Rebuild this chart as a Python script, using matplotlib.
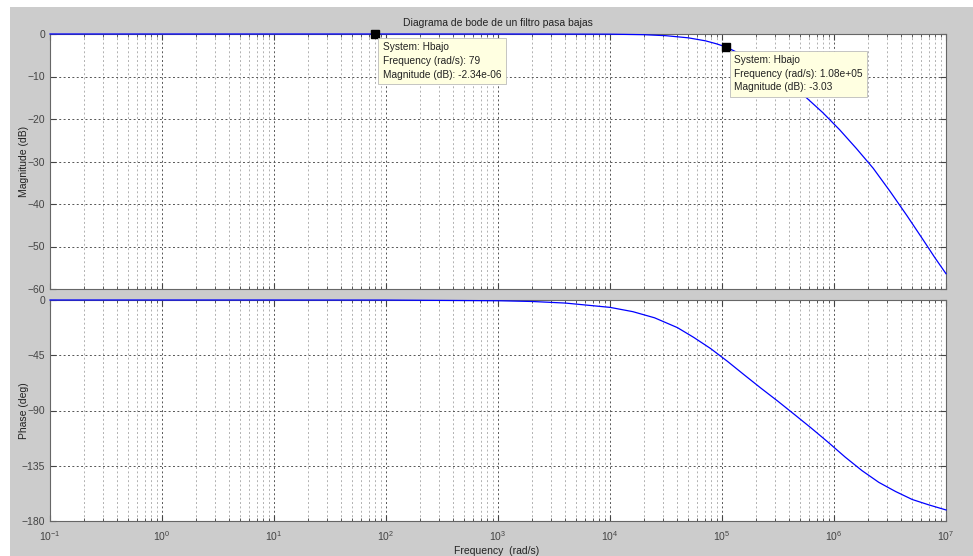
import matplotlib
matplotlib.use("Agg")
import matplotlib.pyplot as plt
from matplotlib.patches import Rectangle
from matplotlib.ticker import LogLocator, NullFormatter

plt.rcParams['font.family'] = ['Liberation Sans', 'DejaVu Sans']

freq_mag = [0.1, 1, 10, 100, 1e3, 3e3, 1e4, 2e4, 3.16e4, 5e4, 7.1e4, 8.9e4, 1.08e5,
            1.41e5, 2e5, 2.82e5, 3.98e5, 5.62e5, 7.94e5, 1.12e6, 1.58e6, 2.24e6,
            3.16e6, 4.47e6, 6.31e6, 7.94e6, 1e7]
mag_db = [0, 0, 0, 0, -0.003, -0.02, -0.04, -0.16, -0.4, -0.9, -1.6, -2.3, -3.03,
          -4.5, -6.5, -8.9, -11.7, -14.9, -18.5, -22.5, -26.9, -31.6,
          -37.0, -42.7, -48.6, -52.6, -56.4]

freq_fase = [0.1, 1, 10, 100, 1e3, 2e3, 4e3, 1e4, 1.6e4, 2.5e4, 4e4, 5.6e4, 7.9e4,
             1.12e5, 1.58e5, 2.24e5, 3.16e5, 4.47e5, 6.3e5, 8.9e5, 1.26e6, 1.78e6,
             2.51e6, 3.55e6, 5e6, 7.1e6, 1e7]
fase_deg = [0, 0, -0.01, -0.06, -0.6, -1.2, -2.5, -6.0, -9.5, -14.5, -22.5, -30.5, -39.5,
            -50, -61, -72, -82.5, -93.5, -104.5, -116, -128, -139,
            -148.5, -156, -162.5, -167, -171]

# Marcadores (datatips)
tips_freq = [79, 1.08e5]
tips_mag = [-2.34e-06, -3.03]
tips_txt = ["System: Hbajo\nFrequency (rad/s): 79\nMagnitude (dB): -2.34e-06",
            "System: Hbajo\nFrequency (rad/s): 1.08e+05\nMagnitude (dB): -3.03"]

mag_ticks = [0, -10, -20, -30, -40, -50, -60]
fase_ticks = [0, -45, -90, -135, -180]

W, H = 973, 556
fig = plt.figure(figsize=(W / 100, H / 100), dpi=100, facecolor='white')
# fondo gris estilo matlab
fig.patches.append(Rectangle((10 / W, 0), 1 - 10 / W, 1 - 7 / H, transform=fig.transFigure,
                             facecolor='#cccccc', edgecolor='none', zorder=-10))

left, width = 50 / W, 896 / W
ax1 = fig.add_axes([left, 1 - 289 / H, width, 255 / H])
ax2 = fig.add_axes([left, 1 - 521 / H, width, 221 / H])

tc = '#444444'
for ax in (ax1, ax2):
    ax.set_xscale('log')
    ax.set_xlim(0.1, 1e7)
    ax.set_facecolor('white')
    ax.xaxis.set_major_locator(LogLocator(base=10, numticks=20))
    ax.xaxis.set_minor_locator(LogLocator(base=10, subs=range(2, 10), numticks=20))
    ax.xaxis.set_minor_formatter(NullFormatter())
    ax.grid(True, which='major', axis='both', linestyle=(0, (2, 2.5)), color='#555555', linewidth=0.7)
    ax.grid(True, which='minor', axis='x', linestyle=(0, (2, 2.5)), color='#b0b0b0', linewidth=0.7)
    ax.tick_params(which='both', direction='in', top=True, right=True, colors=tc,
                   labelsize=7.5, length=4)
    ax.tick_params(which='minor', length=2)
    for s in ax.spines.values():
        s.set_color('#666666')
        s.set_linewidth(0.8)

ax1.plot(freq_mag, mag_db, color='#0000ff', linewidth=0.9, clip_on=False, zorder=3)
ax1.set_ylim(-60, 0)
ax1.set_yticks(mag_ticks)
ax1.tick_params(axis='x', labelbottom=False)
ax1.set_ylabel('Magnitude (dB)', fontsize=7.5, color='#222222')
ax1.yaxis.set_label_coords(-21 / 896, 0.5)
ax1.set_title('Diagrama de bode de un filtro pasa bajas', fontsize=7.5, color='#222222', pad=6)

ax2.plot(freq_fase, fase_deg, color='#0000ff', linewidth=0.9, clip_on=False, zorder=3)
ax2.set_ylim(-180, 0)
ax2.set_yticks(fase_ticks)
ax2.tick_params(axis='x', pad=6)
ax2.set_ylabel('Phase (deg)', fontsize=7.5, color='#222222')
ax2.yaxis.set_label_coords(-21 / 896, 0.5)
fig.text(497 / W, 1 - 551 / H, 'Frequency  (rad/s)', fontsize=7.5, color='#222222',
         ha='center', va='center')

for f, m, t in zip(tips_freq, tips_mag, tips_txt):
    ax1.plot(f, m, marker='s', markersize=5.5, color='black', clip_on=False, zorder=5)
    ax1.annotate(t, xy=(f, m), xytext=(6, -6), textcoords='offset points',
                 ha='left', va='top', fontsize=7.3, color='#222222', linespacing=1.45,
                 bbox=dict(boxstyle='square,pad=0.45', facecolor='#ffffe1',
                           edgecolor='#bbbbbb', linewidth=0.6),
                 annotation_clip=False, zorder=6)

fig.savefig('out.png', dpi=100, facecolor=fig.get_facecolor())
